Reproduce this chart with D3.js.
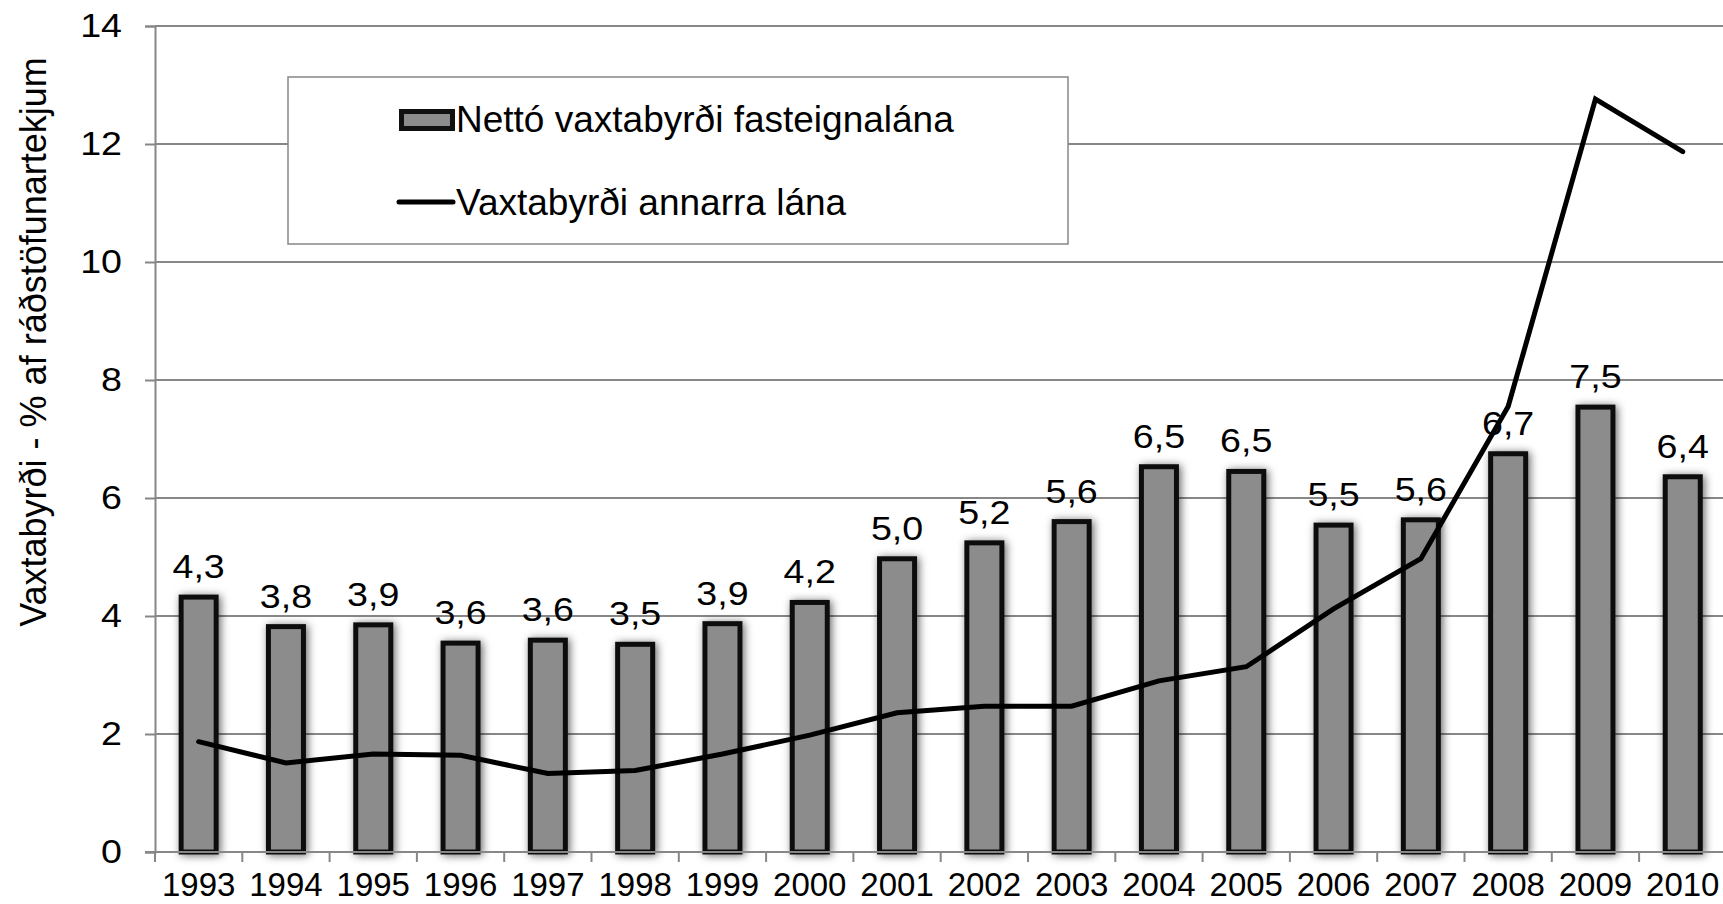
<!DOCTYPE html>
<html>
<head>
<meta charset="utf-8">
<script src="https://cdn.jsdelivr.net/npm/d3@7"></script>
<style>
  html, body { margin: 0; padding: 0; background: #fff; }
  svg { display: block; font-family: "Liberation Sans", Arial, sans-serif; }
</style>
</head>
<body>
<svg id="chart" width="1723" height="904"></svg>
<script>
const years = ["1993","1994","1995","1996","1997","1998","1999","2000","2001","2002","2003","2004","2005","2006","2007","2008","2009","2010"];
const barValues = [4.32, 3.82, 3.85, 3.54, 3.59, 3.52, 3.87, 4.23, 4.97, 5.24, 5.6, 6.53, 6.45, 5.54, 5.63, 6.75, 7.54, 6.36];
const barLabels = ["4,3","3,8","3,9","3,6","3,6","3,5","3,9","4,2","5,0","5,2","5,6","6,5","6,5","5,5","5,6","6,7","7,5","6,4"];
const lineValues = [1.87, 1.51, 1.66, 1.64, 1.33, 1.38, 1.66, 1.98, 2.36, 2.47, 2.47, 2.9, 3.14, 4.12, 4.97, 7.55, 12.76, 11.87];
const yTicks = [0, 2, 4, 6, 8, 10, 12, 14];
const barName = "Nettó vaxtabyrði fasteignalána";
const lineName = "Vaxtabyrði annarra lána";
const yTitle = "Vaxtabyrði - % af ráðstöfunartekjum";

(function () {
const svg = d3.select("#chart");
const plotLeft = 155, plotTop = 26, plotBottom = 852, band = 87.3;
const x = d3.scaleBand().domain(years).range([plotLeft, plotLeft + band * years.length]).padding(0);
const y = d3.scaleLinear().domain([0, 14]).range([plotBottom, plotTop]);
const gridColor = "#878787";
const stretch = 1.14;

const defs = svg.append("defs");
const f = defs.append("filter").attr("id", "shadow").attr("x", "-50%").attr("y", "-20%").attr("width", "200%").attr("height", "140%");
f.append("feDropShadow").attr("dx", 2).attr("dy", 1).attr("stdDeviation", 4).attr("flood-color", "#000").attr("flood-opacity", 0.6);

// gridlines
svg.append("g").selectAll("line").data(yTicks.filter(d => d > 0)).join("line")
  .attr("x1", plotLeft).attr("x2", 1723)
  .attr("y1", d => y(d)).attr("y2", d => y(d))
  .attr("stroke", gridColor).attr("stroke-width", 2);

// y axis
const yAxis = svg.append("g").attr("transform", `translate(${plotLeft},0)`)
  .call(d3.axisLeft(y).tickValues(yTicks).tickSize(10).tickPadding(22).tickFormat(d3.format("d")));
yAxis.select(".domain").attr("stroke", gridColor).attr("stroke-width", 2);
yAxis.selectAll(".tick line").attr("stroke", gridColor).attr("stroke-width", 2);
yAxis.selectAll(".tick text").attr("font-size", 33).attr("fill", "#000")
  .attr("font-family", "Liberation Sans, Arial, sans-serif")
  .attr("x", 0).attr("transform", `translate(-33,0) scale(${stretch},1)`);

// legend
const lg = svg.append("g");
lg.append("rect").attr("x", 288).attr("y", 77).attr("width", 780).attr("height", 167)
  .attr("fill", "#fff").attr("stroke", gridColor).attr("stroke-width", 1.5);
lg.append("rect").attr("x", 401.5).attr("y", 111.5).attr("width", 51).attr("height", 17)
  .attr("fill", "#8c8c8c").attr("stroke", "#111").attr("stroke-width", 5);
lg.append("text").attr("x", 456).attr("y", 119).attr("dy", "0.36em").attr("font-size", 37).text(barName);
lg.append("line").attr("x1", 399).attr("x2", 453).attr("y1", 202).attr("y2", 202)
  .attr("stroke", "#000").attr("stroke-width", 5).attr("stroke-linecap", "round");
lg.append("text").attr("x", 456).attr("y", 202).attr("dy", "0.36em").attr("font-size", 37).text(lineName);

// bars
const bw = 35;
svg.append("g").selectAll("rect").data(years).join("rect")
  .attr("x", d => x(d) + x.bandwidth() / 2 - bw / 2)
  .attr("y", (d, i) => y(barValues[i]))
  .attr("width", bw)
  .attr("height", (d, i) => plotBottom - y(barValues[i]))
  .attr("fill", "#8c8c8c").attr("stroke", "#111").attr("stroke-width", 5)
  .attr("filter", "url(#shadow)");

// x axis
const xAxis = svg.append("g").attr("transform", `translate(0,${plotBottom})`)
  .call(d3.axisBottom(x).tickSize(0).tickPadding(44));
xAxis.select(".domain").attr("stroke", gridColor).attr("stroke-width", 2).attr("d", `M${plotLeft - 10},0H1723`);
xAxis.selectAll(".tick text").attr("font-size", 33).attr("fill", "#000")
  .attr("font-family", "Liberation Sans, Arial, sans-serif").attr("dy", 0);
svg.append("g").selectAll("line").data(years.concat(["end"])).join("line")
  .attr("x1", (d, i) => plotLeft + i * x.bandwidth()).attr("x2", (d, i) => plotLeft + i * x.bandwidth())
  .attr("y1", plotBottom).attr("y2", plotBottom + 10)
  .attr("stroke", gridColor).attr("stroke-width", 2);

// line
const line = d3.line().x((d, i) => x(years[i]) + x.bandwidth() / 2).y(d => y(d));
svg.append("path").datum(lineValues).attr("d", line)
  .attr("fill", "none").attr("stroke", "#000").attr("stroke-width", 5)
  .attr("stroke-linejoin", "miter").attr("stroke-linecap", "round");

// bar labels
svg.append("g").selectAll("text").data(years).join("text")
  .attr("transform", (d, i) => `translate(${x(d) + x.bandwidth() / 2},${y(barValues[i]) - 19}) scale(${stretch},1)`)
  .attr("text-anchor", "middle").attr("font-size", 33).attr("fill", "#000")
  .text((d, i) => barLabels[i]);

// y title
svg.append("text").attr("transform", "translate(46,342) rotate(-90)")
  .attr("text-anchor", "middle").attr("font-size", 36).attr("fill", "#000").text(yTitle);
})();
</script>
</body>
</html>
